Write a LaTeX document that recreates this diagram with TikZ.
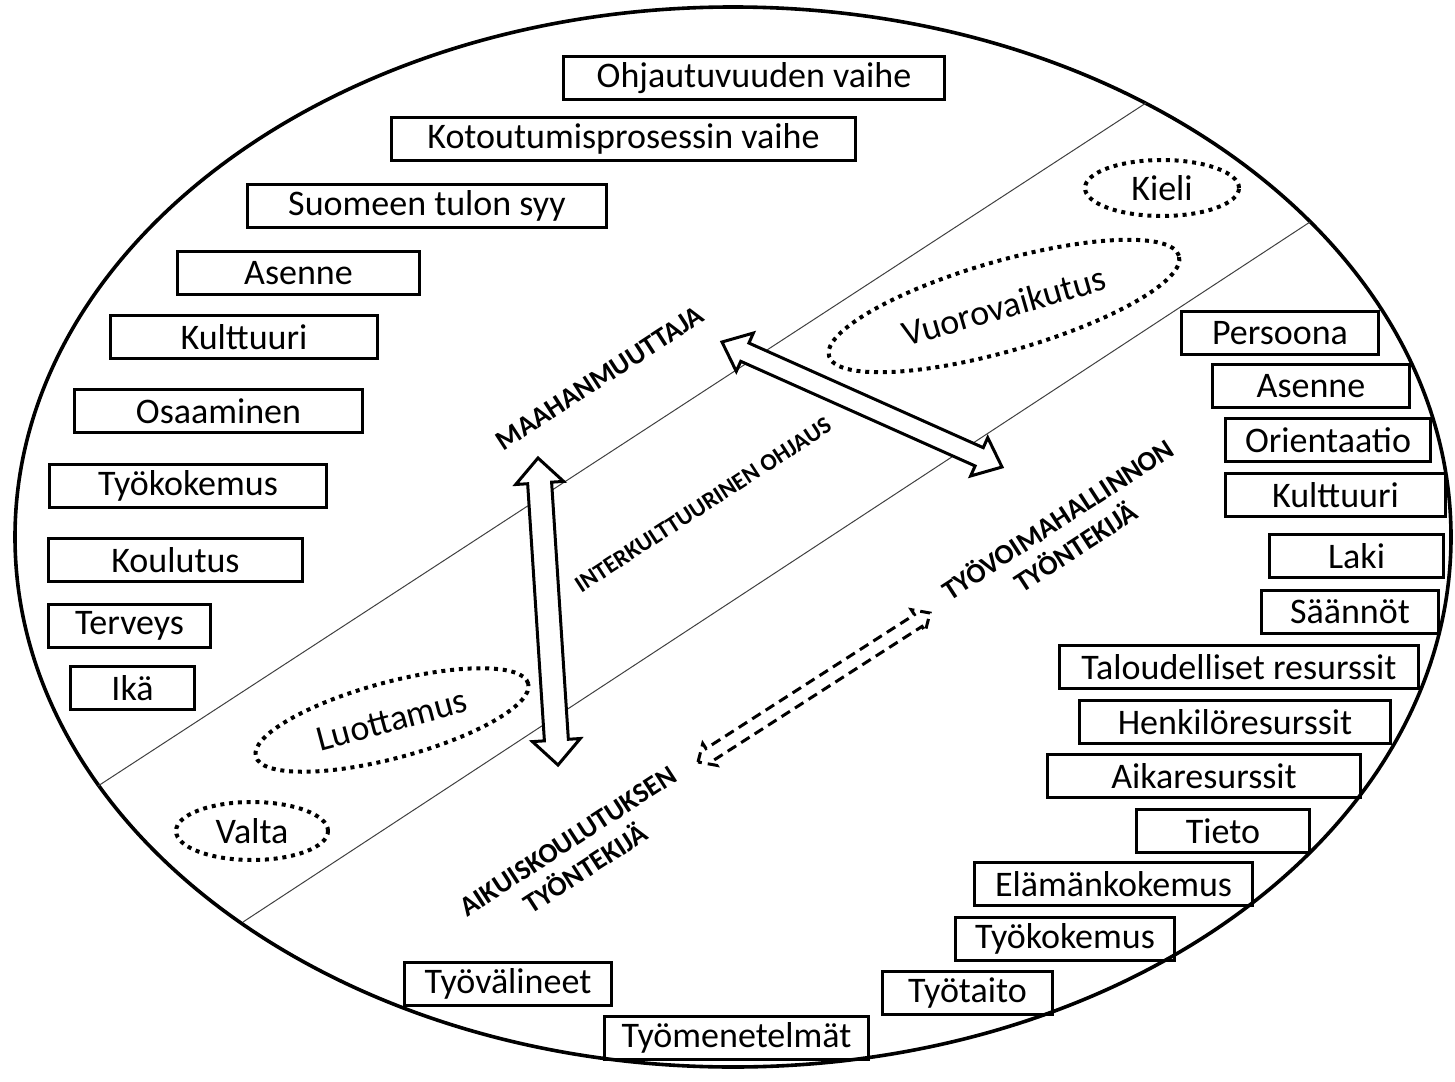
\documentclass[tikz,border=0pt]{standalone}
\usepackage{fontspec}
\setmainfont{Carlito}
\usetikzlibrary{calc,shapes.geometric}

\tikzset{
 box/.style={draw, line width=1.5pt, minimum height=21.5pt, inner sep=0pt, font=\fontsize{18}{20}\selectfont},
 dotell/.style={ellipse, draw, line width=2pt, dash pattern=on 2pt off 2.4pt, inner sep=0pt, font=\fontsize{18}{20}\selectfont},
 lbl/.style={font=\bfseries\fontsize{14}{16.5}\selectfont, align=center, inner sep=0pt},
 lblsmall/.style={font=\bfseries\fontsize{12}{14}\selectfont, inner sep=0pt},
 blockarrow/.style={draw, line width=1.5pt, fill=white, line join=miter},
 dashedarrow/.style={draw, line width=1.5pt, fill=white, dash pattern=on 5pt off 3pt},
 sepline/.style={draw=black!75, line width=0.5pt},
 outerell/.style={draw, line width=1.8pt}
}

% #1,#2 tips; #3 head length; #4 head half-width; #5 shaft half-width; #6 style
\newcommand\dblarrow[6]{%
 \path[#6] (#1)
  -- ($(#1)!#3!(#2)!#4!90:(#2)$)
  -- ($(#1)!#3!(#2)!#5!90:(#2)$)
  -- ($(#2)!#3!(#1)!#5!-90:(#1)$)
  -- ($(#2)!#3!(#1)!#4!-90:(#1)$)
  -- (#2)
  -- ($(#2)!#3!(#1)!#4!90:(#1)$)
  -- ($(#2)!#3!(#1)!#5!90:(#1)$)
  -- ($(#1)!#3!(#2)!#5!-90:(#2)$)
  -- ($(#1)!#3!(#2)!#4!-90:(#2)$)
  -- cycle;}

\begin{document}
\begin{tikzpicture}[x=0.5pt,y=-0.5pt]
\useasboundingbox (0,0) rectangle (1455,1081);

% outer ellipse
\draw[outerell] (733,537) ellipse [x radius=718, y radius=530];

% separating lines
\coordinate (uA) at (98,786);
\coordinate (uB) at (1146,103);
\coordinate (lA) at (243,922);
\coordinate (lB) at (1310,222);
\draw[sepline] (uA) -- (uB);
\draw[sepline] (lA) -- (lB);

% arrows
\coordinate (v1) at (538,458);
\coordinate (v2) at (558,765);
\coordinate (d1) at (722,342);
\coordinate (d2) at (1002,467);
\coordinate (s1) at (698,762);
\coordinate (s2) at (930,613);
\dblarrow{v1}{v2}{12.5pt}{12pt}{6pt}{blockarrow}
\dblarrow{d1}{d2}{12.5pt}{10.5pt}{5pt}{blockarrow}
\dblarrow{s1}{s2}{7pt}{6.5pt}{3.5pt}{dashedarrow}

% rotated labels
\node[lbl, rotate=33] (maa) at (600,378) {MAAHANMUUTTAJA};
\node[lblsmall, rotate=33] (ohj) at (703,505) {INTERKULTTUURINEN OHJAUS};
\node[lbl, rotate=33] (aik) at (577,855) {AIKUISKOULUTUKSEN\\TYÖNTEKIJÄ};
\node[lbl, rotate=33] (tyo) at (1066,532) {TYÖVOIMAHALLINNON\\TYÖNTEKIJÄ};

% dotted ellipses
\node[dotell, minimum width=77pt, minimum height=28pt] (kieli) at (1162,188) {Kieli};
\node[dotell, rotate=16, minimum width=182pt, minimum height=45pt] (vuoro) at (1004,306) {Vuorovaikutus};
\node[dotell, rotate=15, minimum width=141pt, minimum height=38pt] (luot) at (392,720) {Luottamus};
\node[dotell, minimum width=76pt, minimum height=29pt] (valta) at (252,831) {Valta};

% left boxes
\node[box, minimum width=190.5pt] (b1) at (754,78) {Ohjautuvuuden vaihe};
\node[box, minimum width=232pt] (b2) at (623.5,139) {Kotoutumisprosessin vaihe};
\node[box, minimum width=179.5pt] (b3) at (427,206) {Suomeen tulon syy};
\node[box, minimum width=121pt] (b4) at (298.5,273) {Asenne};
\node[box, minimum width=133.5pt] (b5) at (244,337) {Kulttuuri};
\node[box, minimum width=144pt] (b6) at (218.5,411) {Osaaminen};
\node[box, minimum width=138.5pt] (b7) at (188,486) {Työkokemus};
\node[box, minimum width=127pt] (b8) at (175.5,560) {Koulutus};
\node[box, minimum width=81pt] (b9) at (129.5,626) {Terveys};
\node[box, minimum width=62pt] (b10) at (132.5,688) {Ikä};

% right boxes
\node[box, minimum width=98.5pt] (r1) at (1280,333) {Persoona};
\node[box, minimum width=98.5pt] (r2) at (1311,386) {Asenne};
\node[box, minimum width=102.5pt] (r3) at (1328,440) {Orientaatio};
\node[box, minimum width=110pt] (r4) at (1335.5,495) {Kulttuuri};
\node[box, minimum width=87pt] (r5) at (1356.5,556) {Laki};
\node[box, minimum width=88.5pt] (r6) at (1350,612) {Säännöt};
\node[box, minimum width=179.5pt] (r7) at (1239,667) {Taloudelliset resurssit};
\node[box, minimum width=155.5pt] (r8) at (1235,722) {Henkilöresurssit};
\node[box, minimum width=156.5pt] (r9) at (1204,776) {Aikaresurssit};
\node[box, minimum width=86.5pt] (r10) at (1223,831) {Tieto};
\node[box, minimum width=139pt] (r11) at (1113.5,884) {Elämänkokemus};
\node[box, minimum width=109.5pt] (r12) at (1065,939) {Työkokemus};
\node[box, minimum width=85pt] (r13) at (967.5,993) {Työtaito};

% bottom boxes
\node[box, minimum width=103.5pt] (t1) at (508,984) {Työvälineet};
\node[box, minimum width=132pt] (t2) at (736.5,1038) {Työmenetelmät};
\end{tikzpicture}
\end{document}
